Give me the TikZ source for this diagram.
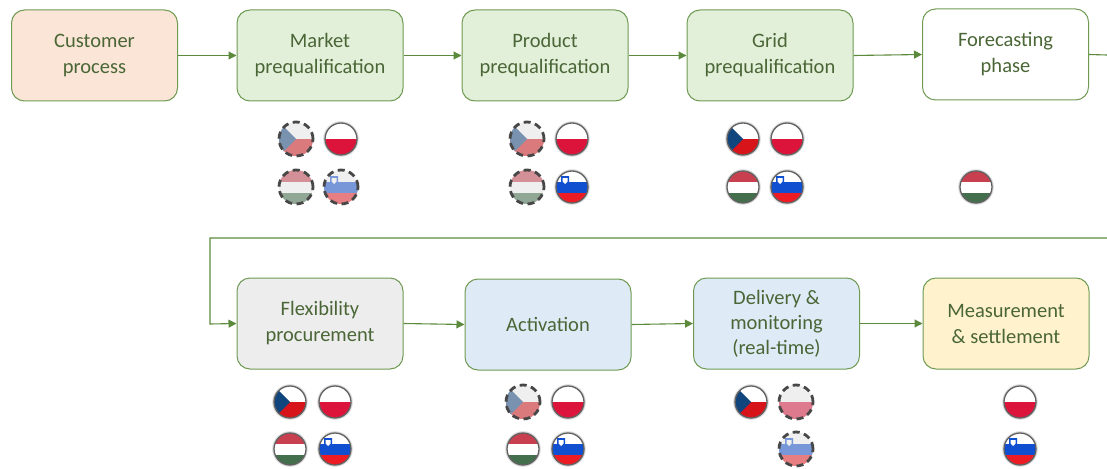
\documentclass[tikz,border=0pt]{standalone}
\usepackage{fontspec}
\setmainfont{Carlito}
\usetikzlibrary{arrows.meta}
\definecolor{edgegreen}{HTML}{6F9A52}
\definecolor{arrowgreen}{HTML}{5B8A3C}
\definecolor{textgreen}{HTML}{4A6636}
\definecolor{czblue}{HTML}{11457E}
\definecolor{czred}{HTML}{D7141A}
\definecolor{plred}{HTML}{DC143C}
\definecolor{hured}{HTML}{C8404F}
\definecolor{hugreen}{HTML}{436F4D}
\definecolor{siblue}{HTML}{0F4FD0}
\definecolor{sired}{HTML}{ED1C24}
\definecolor{fadegrey}{HTML}{E0E0E0}
\tikzset{
  x=1pt,y=-1pt,
  procbox/.style={draw=edgegreen,line width=1pt,rounded corners=13pt,minimum width=166pt,minimum height=91pt,
    align=center,text=textgreen,font=\fontsize{20.5}{26}\selectfont,inner sep=0pt},
  lowered/.style={execute at begin node={\rule{0pt}{19pt}}},
  conn/.style={draw=arrowgreen,line width=1.1pt,-{Triangle[length=8pt,width=8pt]}},
  plainconn/.style={draw=arrowgreen,line width=1.1pt},
  flagbase/.style={circle,inner sep=0pt,minimum size=32pt},
  solidflag/.style={flagbase,draw=black!62,line width=1.3pt,preaction={draw=black!15,line width=3.5pt}},
  dashflag/.style={flagbase,minimum size=34pt,draw=black!72,line width=2.8pt,dash pattern=on 7pt off 4.5pt},
  cz/.style={path picture={\begin{scope}[shift={(path picture bounding box.center)}]
    \fill[white] (-20,-20) rectangle (20,0); \fill[czred] (-20,0) rectangle (20,20);
    \fill[czblue] (-20,-20) -- (0,0) -- (-20,20) -- cycle; #1\end{scope}}},
  pl/.style={path picture={\begin{scope}[shift={(path picture bounding box.center)}]
    \fill[white] (-20,-20) rectangle (20,0); \fill[plred] (-20,0) rectangle (20,20); #1\end{scope}}},
  hu/.style={path picture={\begin{scope}[shift={(path picture bounding box.center)}]
    \fill[hured] (-20,-20) rectangle (20,-5.5); \fill[white] (-20,-5.5) rectangle (20,5.5);
    \fill[hugreen] (-20,5.5) rectangle (20,20); #1\end{scope}}},
  si/.style={path picture={\begin{scope}[shift={(path picture bounding box.center)}]
    \fill[white] (-20,-20) rectangle (20,-5.5); \fill[siblue] (-20,-5.5) rectangle (20,5.5);
    \fill[sired] (-20,5.5) rectangle (20,20);
    \fill[siblue] (-11,-11) -- (-3,-11) -- (-3,-5) -- (-7,-1) -- (-11,-5) -- cycle;
    \fill[white] (-9.5,-9) -- (-4.5,-9) -- (-4.5,-5.5) -- (-7,-3) -- (-9.5,-5.5) -- cycle; #1\end{scope}}},
}
\newcommand{\fadeit}{\fill[fadegrey,opacity=0.5] (-20,-20) rectangle (20,20);}
\begin{document}
\begin{tikzpicture}
\useasboundingbox (0,0) rectangle (1107,468);
% process boxes
\node[procbox,lowered,fill={rgb,255:red,251;green,229;blue,214}] (customer) at (94.5,55.5) {Customer\\process};
\node[procbox,lowered,fill={rgb,255:red,226;green,239;blue,217}] (market) at (320,55.5) {Market\\prequalification};
\node[procbox,lowered,fill={rgb,255:red,226;green,239;blue,217}] (product) at (545,55.5) {Product\\prequalification};
\node[procbox,lowered,fill={rgb,255:red,226;green,239;blue,217}] (grid) at (770,55.5) {Grid\\prequalification};
\node[procbox,lowered,fill=white] (forecast) at (1005.5,54.5) {Forecasting\\phase};
\node[procbox,lowered,fill={rgb,255:red,237;green,237;blue,237}] (flex) at (320,323.5) {Flexibility\\procurement};
\node[procbox,fill={rgb,255:red,222;green,235;blue,247}] (activation) at (548,324.5) {Activation};
\node[procbox,lowered,fill={rgb,255:red,222;green,235;blue,247},font=\fontsize{20.5}{25}\selectfont] (delivery) at (776.5,323.5) {Delivery \&\\monitoring\\(real-time)};
\node[procbox,fill={rgb,255:red,255;green,242;blue,204}] (measure) at (1006,323.5) {Measurement\\\& settlement};
% connectors
\coordinate (rightout) at (1107,55);
\coordinate (rightin) at (1107,238);
\coordinate (cornerA) at (210,238);
\coordinate (cornerB) at (210,324);
\draw[conn] (customer.east) -- (market.west);
\draw[conn] (market.east) -- (product.west);
\draw[conn] (product.east) -- (grid.west);
\draw[conn] (grid.east) -- (forecast.west);
\draw[plainconn] (forecast.east) -- (rightout);
\draw[conn] (rightin) -- (cornerA) -- (cornerB) -- (flex.west);
\draw[conn] (flex.east) -- (activation.west);
\draw[conn] (activation.east) -- (delivery.west);
\draw[conn] (delivery.east) -- (measure.west);
% flags: market
\node[dashflag,cz=\fadeit] (m1) at (296,139) {};
\node[solidflag,pl=] (m2) at (341,139) {};
\node[dashflag,hu=\fadeit] (m3) at (296,187) {};
\node[dashflag,si=\fadeit] (m4) at (341,187) {};
% product
\node[dashflag,cz=\fadeit] (p1) at (527,139) {};
\node[solidflag,pl=] (p2) at (572,139) {};
\node[dashflag,hu=\fadeit] (p3) at (527,187) {};
\node[solidflag,si=] (p4) at (572,187) {};
% grid
\node[solidflag,cz=] (g1) at (743,139) {};
\node[solidflag,pl=] (g2) at (787,139) {};
\node[solidflag,hu=] (g3) at (743,187) {};
\node[solidflag,si=] (g4) at (787,187) {};
% forecast
\node[solidflag,hu=] (f3) at (976,187) {};
% flexibility
\node[solidflag,cz=] (x1) at (290,402) {};
\node[solidflag,pl=] (x2) at (335,402) {};
\node[solidflag,hu=] (x3) at (290,449) {};
\node[solidflag,si=] (x4) at (335,449) {};
% activation
\node[dashflag,cz=\fadeit] (a1) at (523,402) {};
\node[solidflag,pl=] (a2) at (568,402) {};
\node[solidflag,hu=] (a3) at (523,449) {};
\node[solidflag,si=] (a4) at (568,449) {};
% delivery
\node[solidflag,cz=] (d1) at (751,402) {};
\node[dashflag,pl=\fadeit] (d2) at (796,402) {};
\node[dashflag,si=\fadeit] (d4) at (796,449) {};
% measurement
\node[solidflag,pl=] (s2) at (1020,402) {};
\node[solidflag,si=] (s4) at (1020,449) {};
\end{tikzpicture}
\end{document}
